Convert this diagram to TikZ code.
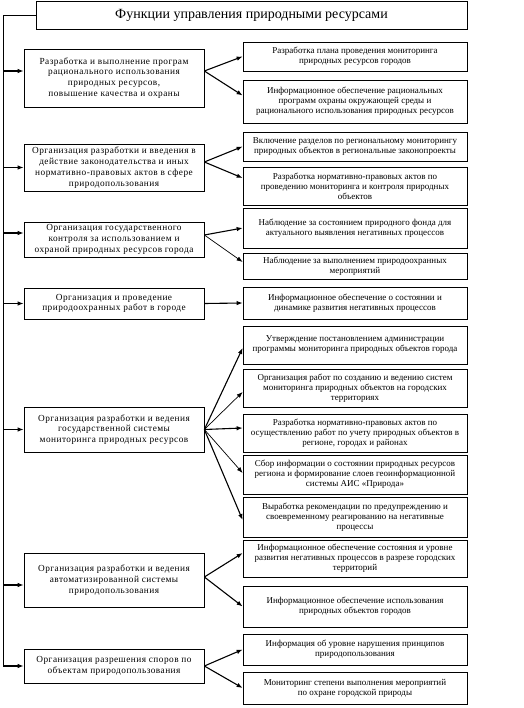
\documentclass[tikz,border=0pt]{standalone}
\usepackage{fontspec}
\setmainfont{Liberation Serif}
\newfontfamily\widefont[LetterSpace=5]{Liberation Serif}
\usetikzlibrary{arrows.meta}

\begin{document}
\begin{tikzpicture}[x=1pt, y=-1pt, >={Latex[length=6pt,width=4.5pt]},
  every node/.style={draw, align=center, inner sep=1pt, line width=0.7pt},
  titlebox/.style={minimum width=431pt, minimum height=28pt, font=\fontsize{14}{16}\selectfont},
  leftbox/.style={minimum width=180pt, font=\widefont\fontsize{9.3}{10.8}\selectfont},
  rightbox/.style={minimum width=224pt, font=\fontsize{9}{10}\selectfont},
  trunk/.style={line width=0.8pt},
  branch/.style={->, line width=1.1pt}]
\useasboundingbox (0,0) rectangle (523,708);
\node[titlebox] (title) at (251.5,15) {Функции управления природными ресурсами};
% functions (left column)
\node[leftbox, minimum height=58pt] (fun1) at (114,78) {Разработка и выполнение програм\\рационального использования\\природных ресурсов,\\повышение качества и охраны};
\node[leftbox, minimum height=47pt] (fun2) at (114,167.5) {Организация разработки и введения в\\действие законодательства и иных\\нормативно-правовых актов в сфере\\природопользования};
\node[leftbox, minimum height=35pt] (fun3) at (114,239.5) {Организация государственного\\контроля за использованием и\\охраной природных ресурсов города};
\node[leftbox, minimum height=31pt] (fun4) at (114,303.5) {Организация и проведение\\природоохранных работ в городе};
\node[leftbox, minimum height=45pt] (fun5) at (114,429.5) {Организация разработки и ведения\\государственной системы\\мониторинга природных ресурсов};
\node[leftbox, minimum height=54pt] (fun6) at (114,580) {Организация разработки и ведения\\автоматизированной системы\\природопользования};
\node[leftbox, minimum height=34pt] (fun7) at (114,666) {Организация разрешения споров по\\объектам природопользования};
% tasks (right column)
\node[rightbox, minimum height=29pt] (task1a) at (355,56.5) {Разработка плана проведения мониторинга\\природных ресурсов городов};
\node[rightbox, minimum height=43pt] (task1b) at (355,101.5) {Информационное обеспечение рациональных\\программ охраны окружающей среды и\\рационального использования природных ресурсов};
\node[rightbox, minimum height=29pt] (task2a) at (355,146.5) {Включение разделов по региональному мониторингу\\природных объектов в региональные законопроекты};
\node[rightbox, minimum height=38pt] (task2b) at (355,186) {Разработка нормативно-правовых актов по\\проведению мониторинга и контроля природных\\объектов};
\node[rightbox, minimum height=40pt] (task3a) at (355,228) {Наблюдение за состоянием природного фонда для\\актуального выявления негативных процессов};
\node[rightbox, minimum height=26pt] (task3b) at (355,266) {Наблюдение за выполнением природоохранных\\мероприятий};
\node[rightbox, minimum height=32pt] (task4) at (355,303) {Информационное обеспечение о состоянии и\\динамике развития негативных процессов};
\node[rightbox, minimum height=38pt] (task5a) at (355,345) {Утверждение постановлением администрации\\программы мониторинга природных объектов города};
\node[rightbox, minimum height=38pt] (task5b) at (355,388) {Организация работ по созданию и ведению систем\\мониторинга природных объектов на городских\\территориях};
\node[rightbox, minimum height=38pt] (task5c) at (355,433) {Разработка нормативно-правовых актов по\\осуществлению работ по учету природных объектов в\\регионе, городах и районах};
\node[rightbox, minimum height=39pt] (task5d) at (355,474.5) {Сбор информации о состоянии природных ресурсов\\региона и формирование слоев геоинформационной\\системы АИС «Природа»};
\node[rightbox, minimum height=40pt] (task5e) at (355,517) {Выработка рекомендации по предупреждению и\\своевременному реагированию на негативные\\процессы};
\node[rightbox, minimum height=37pt] (task6a) at (355,558.5) {Информационное обеспечение состояния и уровне\\развития негативных процессов в разрезе городских\\территорий};
\node[rightbox, minimum height=41pt] (task6b) at (355,606.5) {Информационное обеспечение использования\\природных объектов городов};
\node[rightbox, minimum height=31pt] (task7a) at (355,649.5) {Информация об уровне нарушения принципов\\природопользования};
\node[rightbox, minimum height=32pt] (task7b) at (355,688) {Мониторинг степени выполнения мероприятий\\по охране городской природы};
% trunk
\coordinate (top) at (3,15);
\coordinate (bottom) at (3,666);
\draw[trunk] (title.west) -- (top) -- (bottom);
\draw[branch] ([yshift=7pt]fun1.west -| top) -- ([yshift=7pt]fun1.west);
\draw[branch] (fun2.west -| top) -- (fun2.west);
\draw[branch] ([yshift=6.5pt]fun3.west -| top) -- ([yshift=6.5pt]fun3.west);
\draw[branch] (fun4.west -| top) -- (fun4.west);
\draw[branch] (fun5.west -| top) -- (fun5.west);
\draw[branch] ([yshift=-5pt]fun6.west -| top) -- ([yshift=-5pt]fun6.west);
\draw[branch] (fun7.west -| top) -- (fun7.west);
% forks
\draw[branch] ([yshift=7pt]fun1.east) -- (task1a.west);
\draw[branch] ([yshift=7pt]fun1.east) -- ([yshift=6pt]task1b.west);
\draw[branch] ([yshift=5.5pt]fun2.east) -- (task2a.west);
\draw[branch] ([yshift=5.5pt]fun2.east) -- ([yshift=8pt]task2b.west);
\draw[branch] ([yshift=4.5pt]fun3.east) -- (task3a.west);
\draw[branch, line width=0.7pt] ([yshift=4.5pt]fun3.east) -- ([yshift=4pt]task3b.west);
\draw[branch] (fun4.east) -- (task4.west);
\draw[branch] (fun5.east) -- ([yshift=-3pt]task5a.west);
\draw[branch, line width=0.7pt] (fun5.east) -- ([yshift=-4pt]task5b.west);
\draw[branch] (fun5.east) -- ([yshift=5pt]task5c.west);
\draw[branch, line width=0.7pt] (fun5.east) -- ([yshift=1.5pt]task5d.west);
\draw[branch] (fun5.east) -- ([yshift=-3pt]task5e.west);
\draw[branch] ([yshift=3pt]fun6.east) -- ([yshift=5.5pt]task6a.west);
\draw[branch] ([yshift=3pt]fun6.east) -- (task6b.west);
\draw[branch] (fun7.east) -- (task7a.west);
\draw[branch] (fun7.east) -- (task7b.west);
\end{tikzpicture}
\end{document}
